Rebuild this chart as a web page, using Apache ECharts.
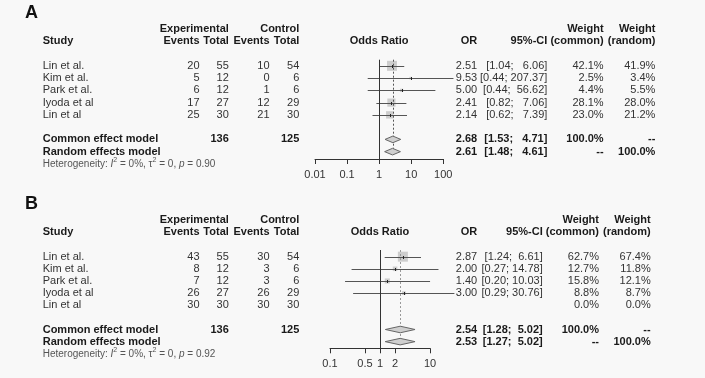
<!DOCTYPE html>
<html><head><meta charset="utf-8">
<script src="https://cdn.jsdelivr.net/npm/echarts@6/dist/echarts.min.js"></script>
<style>html,body{margin:0;padding:0;background:#f8f8f8}#c{width:705px;height:378px}</style>
</head><body><div id="c"></div>
<script>
// ---------------- DATA ----------------
const studies = ['Lin et al.', 'Kim et al.', 'Park et al.', 'Iyoda et al', 'Lin et al'];

// Panel A
const aExpEvents = [20, 5, 6, 17, 25];
const aExpTotal = [55, 12, 12, 27, 30];
const aCtrlEvents = [10, 0, 1, 12, 21];
const aCtrlTotal = [54, 6, 6, 29, 30];
const aOR = [2.51, 9.53, 5.00, 2.41, 2.14];
const aLower = [1.04, 0.44, 0.44, 0.82, 0.62];
const aUpper = [6.06, 207.37, 56.62, 7.06, 7.39];
const aWeightCommon = [42.1, 2.5, 4.4, 28.1, 23.0];
const aWeightRandom = [41.9, 3.4, 5.5, 28.0, 21.2];
const aSummaryOR = [2.68, 2.61];      // common, random
const aSummaryLower = [1.53, 1.48];
const aSummaryUpper = [4.71, 4.61];
const aTotals = [136, 125];
const aHet = ['0%', '0', '0.90'];     // I2, tau2, p
const aTicks = [0.01, 0.1, 1, 10, 100];

// Panel B
const bExpEvents = [43, 8, 7, 26, 30];
const bExpTotal = [55, 12, 12, 27, 30];
const bCtrlEvents = [30, 3, 3, 26, 30];
const bCtrlTotal = [54, 6, 6, 29, 30];
const bOR = [2.87, 2.00, 1.40, 3.00, null];
const bLower = [1.24, 0.27, 0.20, 0.29, null];
const bUpper = [6.61, 14.78, 10.03, 30.76, null];
const bWeightCommon = [62.7, 12.7, 15.8, 8.8, 0.0];
const bWeightRandom = [67.4, 11.8, 12.1, 8.7, 0.0];
const bSummaryOR = [2.54, 2.53];
const bSummaryLower = [1.28, 1.27];
const bSummaryUpper = [5.02, 5.02];
const bTotals = [136, 125];
const bHet = ['0%', '0', '0.92'];
const bTicks = [0.1, 0.5, 1, 2, 10];

// ---------------- LAYOUT ----------------
const FONT = '"Liberation Sans", Arial, sans-serif';
const TXT = '#333';
const HEAD = '#1a1a1a';
const colsLeft = {study: [42.7, 'left'], expE: [199.5, 'right'], expT: [228.8, 'right'], ctlE: [269.6, 'right'], ctlT: [299.3, 'right'], or: [477.2, 'right']};
const panels = [
  {name: 'A', exE: aExpEvents, exT: aExpTotal, ctE: aCtrlEvents, ctT: aCtrlTotal, or: aOR, lo: aLower, hi: aUpper,
   wc: aWeightCommon, wr: aWeightRandom, sOR: aSummaryOR, sLo: aSummaryLower, sHi: aSummaryUpper, tot: aTotals, het: aHet, ticks: aTicks,
   grid: {left: 315, top: 59.7, width: 128.3, height: 99.3}, xr: [-2, 2], yr: [-0.5, 7.6],
   cols: {ci: 547.3, wc: 603.6, wr: 655.4}, dash: '#555', titleTop: 4},
  {name: 'B', exE: bExpEvents, exT: bExpTotal, ctE: bCtrlEvents, ctT: bCtrlTotal, or: bOR, lo: bLower, hi: bUpper,
   wc: bWeightCommon, wr: bWeightRandom, sOR: bSummaryOR, sLo: bSummaryLower, sHi: bSummaryUpper, tot: bTotals, het: bHet, ticks: bTicks,
   grid: {left: 330, top: 250, width: 100, height: 98.3}, xr: [-1, 1], yr: [-0.55, 7.55],
   cols: {ci: 542.7, wc: 599, wr: 650.7}, dash: '#999', titleTop: 195}
];

const lg = v => Math.log10(v);
const f2 = v => v.toFixed(2);

function buildRows(P) {
  const colX = Object.assign({}, colsLeft);
  colX.ci = [P.cols.ci, 'right']; colX.wc = [P.cols.wc, 'right']; colX.wr = [P.cols.wr, 'right'];
  const allHi = P.hi.concat(P.sHi).filter(v => v != null).map(f2);
  const w = Math.max.apply(null, allHi.map(s => s.length));
  const ci = (l, h) => '[' + f2(l) + '; ' + ' '.repeat(w - f2(h).length) + f2(h) + ']';
  const rows = [];
  const cell = (col, text, bold) => ({x: colX[col][0], align: colX[col][1], text: String(text), bold: !!bold});
  rows.push({row: -3, cells: [cell('expT', 'Experimental', 1), cell('ctlT', 'Control', 1), cell('wc', 'Weight', 1), cell('wr', 'Weight', 1)]});
  rows.push({row: -2, cells: [cell('study', 'Study', 1), cell('expE', 'Events', 1), cell('expT', 'Total', 1), cell('ctlE', 'Events', 1), cell('ctlT', 'Total', 1),
    {center: true, text: 'Odds Ratio', bold: true}, cell('or', 'OR', 1), cell('ci', '95%-CI', 1), cell('wc', '(common)', 1), cell('wr', '(random)', 1)]});
  studies.forEach((s, i) => {
    const c = [cell('study', s), cell('expE', P.exE[i]), cell('expT', P.exT[i]), cell('ctlE', P.ctE[i]), cell('ctlT', P.ctT[i])];
    if (P.or[i] != null) { c.push(cell('or', f2(P.or[i]))); c.push(cell('ci', ci(P.lo[i], P.hi[i]))); }
    c.push(cell('wc', P.wc[i].toFixed(1) + '%')); c.push(cell('wr', P.wr[i].toFixed(1) + '%'));
    rows.push({row: i, cells: c});
  });
  rows.push({row: 6, cells: [cell('study', 'Common effect model', 1), cell('expT', P.tot[0], 1), cell('ctlT', P.tot[1], 1),
    cell('or', f2(P.sOR[0]), 1), cell('ci', ci(P.sLo[0], P.sHi[0]), 1), cell('wc', '100.0%', 1), cell('wr', '--', 1)]});
  rows.push({row: 7, cells: [cell('study', 'Random effects model', 1),
    cell('or', f2(P.sOR[1]), 1), cell('ci', ci(P.sLo[1], P.sHi[1]), 1), cell('wc', '--', 1), cell('wr', '100.0%', 1)]});
  rows.push({row: 8, cells: [{x: colX.study[0], align: 'left', het: P.het}]});
  return rows;
}

const grids = [], xAxes = [], yAxes = [], series = [], graphics = [];
panels.forEach((P, gi) => {
  grids.push(P.grid);
  const tl = P.ticks.map(lg);
  xAxes.push({gridIndex: gi, type: 'value', min: P.xr[0], max: P.xr[1], splitLine: {show: false},
    axisLine: {show: true, onZero: false, lineStyle: {color: '#333', width: 1}},
    axisTick: {show: true, length: 5, customValues: tl, lineStyle: {color: '#333'}},
    axisLabel: {customValues: tl, margin: 10, fontSize: 11, fontFamily: FONT, color: TXT,
      formatter: v => String(parseFloat(Math.pow(10, v).toPrecision(3)))}});
  yAxes.push({gridIndex: gi, type: 'value', inverse: true, min: P.yr[0], max: P.yr[1], show: false});

  // squares
  const idx = P.or.map((v, i) => i).filter(i => P.or[i] != null);
  const maxW = Math.max.apply(null, P.wc);
  series.push({type: 'scatter', xAxisIndex: gi, yAxisIndex: gi, symbol: 'rect', z: 2, silent: true,
    data: idx.map(i => [lg(P.or[i]), i, 10 * Math.sqrt(P.wc[i] / maxW)]),
    symbolSize: v => Math.max(v[2], 1.5), itemStyle: {color: '#c2c2c2'},
    markLine: {silent: true, symbol: 'none', animation: false, label: {show: false},
      lineStyle: {color: '#333', type: 'solid', width: 1}, data: [{xAxis: 0}]}});
  // CI lines + point tick
  series.push({type: 'custom', xAxisIndex: gi, yAxisIndex: gi, z: 4, clip: false, silent: true,
    data: idx.map(i => [lg(P.lo[i]), lg(P.hi[i]), i, lg(P.or[i])]),
    renderItem: (params, api) => {
      const a = api.coord([api.value(0), api.value(2)]);
      const b = api.coord([api.value(1), api.value(2)]);
      const e = api.coord([api.value(3), api.value(2)]);
      const y = Math.round(a[1]) + 0.5;
      return {type: 'group', children: [
        {type: 'line', shape: {x1: a[0], y1: y, x2: b[0], y2: y}, style: {stroke: '#555', lineWidth: 1}},
        {type: 'line', shape: {x1: Math.round(e[0]) + 0.5, y1: y - 1.5, x2: Math.round(e[0]) + 0.5, y2: y + 1.5}, style: {stroke: '#222', lineWidth: 1}}
      ]};
    }});
  // summary dashed line
  series.push({type: 'custom', xAxisIndex: gi, yAxisIndex: gi, z: 3, clip: false, silent: true,
    data: [[lg(P.sOR[0]), P.yr[0], 7.3]],
    renderItem: (params, api) => {
      const a = api.coord([api.value(0), api.value(1)]);
      const b = api.coord([api.value(0), api.value(2)]);
      const x = Math.round(a[0]) + 0.5;
      return {type: 'line', shape: {x1: x, y1: a[1], x2: x, y2: b[1]}, style: {stroke: P.dash, lineWidth: 1, lineDash: [2, 2]}};
    }});
  // diamonds
  series.push({type: 'custom', xAxisIndex: gi, yAxisIndex: gi, z: 5, clip: false, silent: true,
    data: [0, 1].map(k => [lg(P.sLo[k]), lg(P.sHi[k]), lg(P.sOR[k]), 6 + k]),
    renderItem: (params, api) => {
      const r = api.value(3);
      const l = api.coord([api.value(0), r]), h = api.coord([api.value(1), r]);
      const t = api.coord([api.value(2), r - 0.27]), btm = api.coord([api.value(2), r + 0.27]);
      return {type: 'polygon', shape: {points: [l, t, h, btm]}, style: {fill: '#cfcfcf', stroke: '#666', lineWidth: 1}};
    }});
  // table text
  const rows = buildRows(P);
  const hs = {fontSize: 10, fontFamily: FONT, fill: '#555', lineHeight: 14};
  series.push({type: 'custom', xAxisIndex: gi, yAxisIndex: gi, z: 6, clip: false, silent: true,
    data: rows.map(r => [0, r.row]),
    renderItem: (params, api) => {
      const r = rows[params.dataIndex];
      const p = api.coord([0, api.value(1)]);
      const y = p[1];
      return {type: 'group', children: r.cells.map(c => {
        if (c.het) {
          return {type: 'text', style: {x: c.x, y: y, verticalAlign: 'middle', align: 'left',
            text: '{n|Heterogeneity: }{i|I}{s|2}{n| = ' + c.het[0] + ', \u03c4}{s|2}{n| = ' + c.het[1] + ', }{i|p}{n| = ' + c.het[2] + '}',
            rich: {n: hs, i: Object.assign({}, hs, {fontStyle: 'italic'}),
                   s: {fontSize: 7, fontFamily: FONT, fill: '#555', lineHeight: 7, verticalAlign: 'top'}}}};
        }
        return {type: 'text', style: {x: c.center ? p[0] : c.x, y: y, text: c.text, align: c.center ? 'center' : c.align,
          verticalAlign: 'middle', fontSize: 11, fontFamily: FONT, fontWeight: c.bold ? 'bold' : 'normal', fill: c.bold ? HEAD : TXT}};
      })};
    }});
  graphics.push({type: 'text', left: 25, top: P.titleTop, style: {text: P.name, fontSize: 18, fontWeight: 'bold', fontFamily: FONT, fill: '#111'}});
});

const chart = echarts.init(document.getElementById('c'), null, {renderer: 'canvas'});
chart.setOption({backgroundColor: '#f8f8f8', animation: false, grid: grids, xAxis: xAxes, yAxis: yAxes, series: series, graphic: graphics});
</script></body></html>
